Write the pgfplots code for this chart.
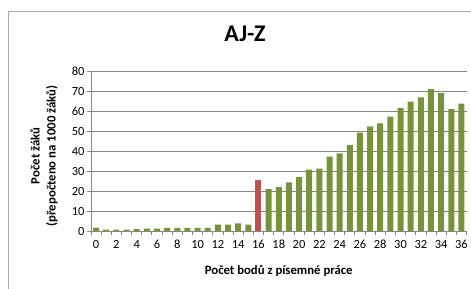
\documentclass[border=0pt]{standalone}
\usepackage{fontspec}
\setmainfont{Carlito}
\usepackage{pgfplots}
\pgfplotsset{compat=1.18}
\definecolor{barg}{RGB}{119,147,60}
\definecolor{barr}{RGB}{192,80,77}
\definecolor{gridc}{RGB}{134,134,134}
\definecolor{borderc}{RGB}{170,170,170}
\begin{document}
\begin{tikzpicture}[x=1bp,y=1bp]
\path[use as bounding box] (0,0) rectangle (471,288);
\begin{scope}
\clip (0,0) rectangle (471,288);
\draw[borderc, line width=1bp] (8.5,-10) rectangle (480,276.5);
\end{scope}
\begin{axis}[
  at={(91bp,57bp)}, anchor=south west,
  scale only axis, width=375.5bp, height=160bp,
  xmin=-0.5, xmax=36.5, ymin=0, ymax=80,
  axis x line*=bottom, axis y line*=left,
  axis line style={gridc, line width=0.8bp, -},
  ytick={0,10,...,80},
  ymajorgrids, major grid style={gridc, line width=0.8bp},
  xtick={-0.5,0.5,...,36.5},
  xticklabels={0,,2,,4,,6,,8,,10,,12,,14,,16,,18,,20,,22,,24,,26,,28,,30,,32,,34,,36,},
  xticklabel style={xshift=5.074bp, yshift=-3bp, anchor=base, yshift=-10bp},
  yticklabel style={xshift=1bp},
  tick align=outside, major tick length=4bp,
  tick style={gridc, line width=0.8bp},
  /pgf/number format/assume math mode=true,
  ticklabel style={font=\fontsize{12.5}{14}\selectfont, text=black},
  title={\textbf{AJ-Z}},
  title style={font=\fontsize{24}{27}\selectfont, at={(axis description cs:0.41,1.194)}, anchor=center},
  xlabel={\textbf{Počet bodů z písemné práce}},
  xlabel style={font=\fontsize{12.8}{15}\selectfont, at={(axis description cs:0.5,-0.25)}, anchor=center},
  ylabel={\textbf{Počet žáků}\\\textbf{(přepočteno na 1000 žáků)}},
  ylabel style={font=\fontsize{12.8}{16}\selectfont, align=center, at={(axis description cs:-0.125,0.47)}, anchor=center},
]
\addplot[ybar, bar width=6bp, bar shift=0pt, fill=barg, draw=none] coordinates {
 (0,1.7) (1,0.7) (2,0.7) (3,0.7) (4,1.0) (5,1.2) (6,1.2) (7,1.6) (8,1.6) (9,1.6)
 (10,1.6) (11,1.6) (12,3.2) (13,3.2) (14,3.8) (15,3.2)
 (17,21.0) (18,22.0) (19,24.3) (20,27.0) (21,30.7) (22,31.2) (23,37.2) (24,38.8)
 (25,43.0) (26,49.2) (27,52.3) (28,53.8) (29,57.2) (30,61.5) (31,64.7) (32,66.8)
 (33,71.0) (34,69.0) (35,61.0) (36,63.7)
};
\addplot[ybar, bar width=6bp, bar shift=0pt, fill=barr, draw=none] coordinates {(16,25.5)};
\end{axis}
\end{tikzpicture}
\end{document}
